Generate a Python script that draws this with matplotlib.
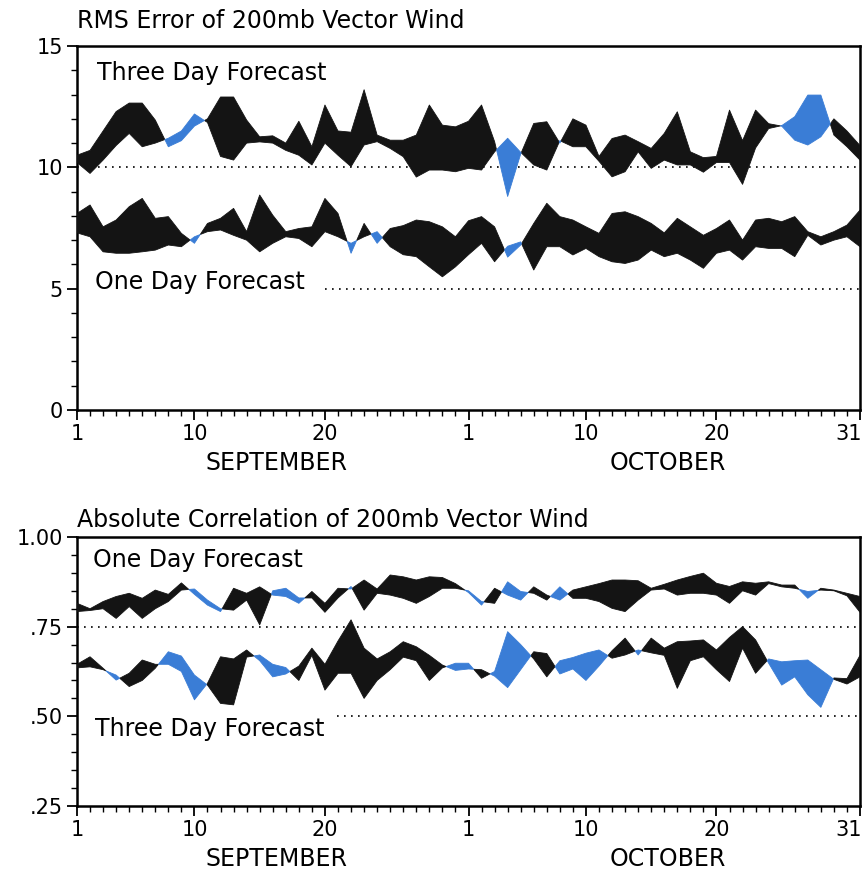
import matplotlib
matplotlib.use("Agg")
import matplotlib.pyplot as plt
import matplotlib.transforms as mtransforms
import numpy as np

plt.rcParams['font.family'] = ['DejaVu Sans']

# Days Sep 1 .. Oct 31 (61 days)
days = list(range(61))
tick_days = [0, 9, 19, 30, 39, 49, 60]
tick_labels = ["1", "10", "20", "1", "10", "20", "31"]
months = ["SEPTEMBER", "OCTOBER"]
month_centers = [15.25, 45.3]

# RMS error of 200mb vector wind: two series per forecast range
# (black where series a > series b, blue where a < b)
rms3_a = [10.5, 10.7, 11.5, 12.3, 12.65, 12.65, 11.95, 10.85, 11.1, 11.7,
          12.0, 12.9, 12.9, 11.95, 11.26, 11.3, 11.0, 11.9, 10.85, 12.57,
          11.5, 11.45, 13.2, 11.33, 11.12, 11.12, 11.33, 12.57, 11.74, 11.67,
          11.9, 12.57, 11.06, 8.8, 10.55, 11.81, 11.88, 11.0, 12.0, 11.74,
          10.45, 11.19, 11.33, 11.06, 10.78, 11.4, 12.29, 10.64, 10.4, 10.45,
          12.36, 11.1, 12.36, 11.8, 11.7, 11.12, 10.92, 11.26, 12.0, 11.5, 10.9]
rms3_b = [10.2, 9.75, 10.3, 10.9, 11.4, 10.85, 11.0, 11.2, 11.5, 12.2,
          11.85, 10.45, 10.3, 11.0, 11.05, 11.0, 10.7, 10.5, 10.1, 11.0,
          10.5, 10.03, 10.92, 11.06, 10.78, 10.44, 9.6, 9.89, 9.89, 9.82,
          9.96, 9.89, 10.64, 11.2, 10.62, 10.1, 9.89, 11.1, 10.85, 10.85,
          10.25, 9.61, 9.82, 10.64, 9.96, 10.3, 10.1, 10.1, 9.8, 10.2,
          10.2, 9.3, 10.8, 11.6, 11.72, 12.09, 12.98, 12.98, 11.33, 10.85, 10.3]
rms1_a = [8.1, 8.45, 7.55, 7.83, 8.38, 8.72, 7.9, 7.97, 7.28, 6.87,
          7.69, 7.9, 8.31, 7.35, 8.86, 8.03, 7.35, 7.48, 7.55, 8.72,
          8.1, 6.46, 7.69, 6.87, 7.48, 7.6, 7.83, 7.76, 7.55, 7.14,
          7.8, 7.97, 7.55, 6.3, 6.8, 7.69, 8.52, 7.97, 7.83, 7.55,
          7.28, 8.1, 8.17, 7.97, 7.69, 7.3, 7.9, 7.55, 7.2, 7.48,
          7.83, 7.0, 7.83, 7.9, 7.76, 7.97, 7.35, 7.14, 7.35, 7.62, 8.24]
rms1_b = [7.3, 7.14, 6.52, 6.46, 6.46, 6.52, 6.59, 6.8, 6.73, 7.14,
          7.35, 7.42, 7.2, 7.0, 6.52, 6.87, 7.14, 7.07, 6.73, 7.35,
          7.14, 6.87, 7.14, 7.35, 6.73, 6.4, 6.32, 5.9, 5.49, 5.9,
          6.4, 6.87, 6.11, 6.75, 6.93, 5.77, 6.73, 6.73, 6.39, 6.66,
          6.32, 6.11, 6.04, 6.18, 6.59, 6.32, 6.46, 6.18, 5.84, 6.46,
          6.59, 6.18, 6.73, 6.66, 6.66, 6.32, 7.2, 6.8, 7.0, 7.14, 6.73]

# Absolute correlation of 200mb vector wind
cor1_a = [0.815, 0.80, 0.82, 0.834, 0.843, 0.829, 0.852, 0.84, 0.872, 0.84,
          0.81, 0.792, 0.857, 0.843, 0.861, 0.838, 0.834, 0.815, 0.848, 0.815,
          0.857, 0.855, 0.88, 0.855, 0.894, 0.889, 0.88, 0.889, 0.887, 0.87,
          0.845, 0.81, 0.857, 0.838, 0.824, 0.861, 0.838, 0.824, 0.852, 0.861,
          0.87, 0.88, 0.88, 0.878, 0.857, 0.868, 0.88, 0.89, 0.899, 0.871,
          0.862, 0.875, 0.871, 0.875, 0.866, 0.866, 0.829, 0.857, 0.852, 0.843, 0.834]
cor1_b = [0.792, 0.795, 0.80, 0.773, 0.806, 0.773, 0.80, 0.82, 0.852, 0.855,
          0.824, 0.80, 0.796, 0.824, 0.755, 0.85, 0.857, 0.83, 0.83, 0.79,
          0.83, 0.862, 0.796, 0.843, 0.838, 0.829, 0.815, 0.834, 0.857, 0.857,
          0.85, 0.82, 0.815, 0.875, 0.848, 0.843, 0.824, 0.861, 0.829, 0.829,
          0.82, 0.801, 0.792, 0.824, 0.852, 0.855, 0.838, 0.843, 0.843, 0.838,
          0.815, 0.85, 0.838, 0.87, 0.861, 0.857, 0.848, 0.852, 0.85, 0.836, 0.79]
cor3_a = [0.645, 0.666, 0.634, 0.601, 0.62, 0.657, 0.645, 0.645, 0.625, 0.546,
          0.592, 0.666, 0.66, 0.685, 0.655, 0.61, 0.618, 0.64, 0.69, 0.645,
          0.71, 0.769, 0.69, 0.66, 0.68, 0.708, 0.694, 0.67, 0.643, 0.628,
          0.632, 0.63, 0.612, 0.58, 0.63, 0.68, 0.675, 0.618, 0.632, 0.60,
          0.64, 0.683, 0.718, 0.671, 0.718, 0.69, 0.708, 0.71, 0.713, 0.685,
          0.72, 0.75, 0.713, 0.648, 0.587, 0.61, 0.56, 0.525, 0.607, 0.605, 0.67]
cor3_b = [0.635, 0.638, 0.63, 0.615, 0.583, 0.60, 0.634, 0.68, 0.668, 0.615,
          0.587, 0.536, 0.532, 0.665, 0.671, 0.645, 0.636, 0.60, 0.67, 0.573,
          0.62, 0.62, 0.55, 0.60, 0.63, 0.665, 0.655, 0.60, 0.635, 0.648,
          0.648, 0.606, 0.625, 0.736, 0.70, 0.66, 0.61, 0.655, 0.664, 0.676,
          0.685, 0.662, 0.671, 0.685, 0.677, 0.67, 0.578, 0.655, 0.666, 0.63,
          0.597, 0.69, 0.62, 0.66, 0.652, 0.655, 0.657, 0.63, 0.603, 0.59, 0.61]

BLACK = "#141414"
BLUE = "#3a7dd6"
FS = 17
TFS = 15

fig = plt.figure(figsize=(8.68, 8.72), dpi=100)
ax1 = fig.add_axes([0.0887, 0.5298, 0.9021, 0.4174])
ax2 = fig.add_axes([0.0887, 0.0757, 0.9021, 0.3085])


def band(ax, a, b):
    x = np.array(days, dtype=float)
    a = np.array(a)
    b = np.array(b)
    ax.fill_between(x, a, b, where=a >= b, interpolate=True, color=BLACK,
                    lw=0.6, zorder=3)
    ax.fill_between(x, a, b, where=a <= b, interpolate=True, color=BLUE,
                    lw=0.6, zorder=3)


def style(ax, ylim, yticks, ylabels, minor_step):
    ax.set_xlim(0, 60)
    ax.set_ylim(*ylim)
    ax.set_xticks(tick_days)
    ax.set_xticklabels(tick_labels, fontsize=TFS)
    ax.set_xticks(days, minor=True)
    ax.set_yticks(yticks)
    ax.set_yticklabels(ylabels, fontsize=TFS)
    ax.set_yticks(np.arange(ylim[0], ylim[1] + 1e-9, minor_step), minor=True)
    ax.tick_params(axis='both', which='major', length=7, width=1.3,
                   direction='out', pad=3)
    ax.tick_params(axis='both', which='minor', length=4, width=1.0,
                   direction='out')
    for s in ax.spines.values():
        s.set_linewidth(1.8)
    # keep the last day label ("31") inside the figure edge
    last = ax.get_xticklabels()[-1]
    shift = mtransforms.ScaledTranslation(-8 / 72, 0, fig.dpi_scale_trans)
    last.set_transform(last.get_transform() + shift)
    for mname, mc in zip(months, month_centers):
        ax.annotate(mname, xy=(mc, 0), xycoords=('data', 'axes fraction'),
                    xytext=(0, -38), textcoords='offset points',
                    ha='center', va='center', fontsize=FS)


dot = dict(color='black', lw=1.2, linestyle=(0, (1, 3.2)), zorder=2)

# Top panel
ax1.plot([0, 60], [10, 10], **dot)
ax1.plot([19, 60], [5, 5], **dot)
band(ax1, rms3_a, rms3_b)
band(ax1, rms1_a, rms1_b)
style(ax1, (0, 15), [0, 5, 10, 15], ["0", "5", "10", "15"], 1)
ax1.text(0, 1.035, "RMS Error of 200mb Vector Wind", transform=ax1.transAxes,
         fontsize=FS, ha='left', va='bottom')
ax1.text(1.5, 13.9, "Three Day Forecast", fontsize=FS, va='center')
ax1.text(1.4, 5.27, "One Day Forecast", fontsize=FS, va='center')

# Bottom panel
ax2.plot([0, 60], [0.75, 0.75], **dot)
ax2.plot([19.9, 60], [0.50, 0.50], **dot)
band(ax2, cor1_a, cor1_b)
band(ax2, cor3_a, cor3_b)
style(ax2, (0.25, 1.0), [0.25, 0.5, 0.75, 1.0], [".25", ".50", ".75", "1.00"], 0.05)
ax2.text(0, 1.02, "Absolute Correlation of 200mb Vector Wind",
         transform=ax2.transAxes, fontsize=FS, ha='left', va='bottom')
ax2.text(1.25, 0.936, "One Day Forecast", fontsize=FS, va='center')
ax2.text(1.4, 0.465, "Three Day Forecast", fontsize=FS, va='center')

fig.savefig("out.png", dpi=100)
